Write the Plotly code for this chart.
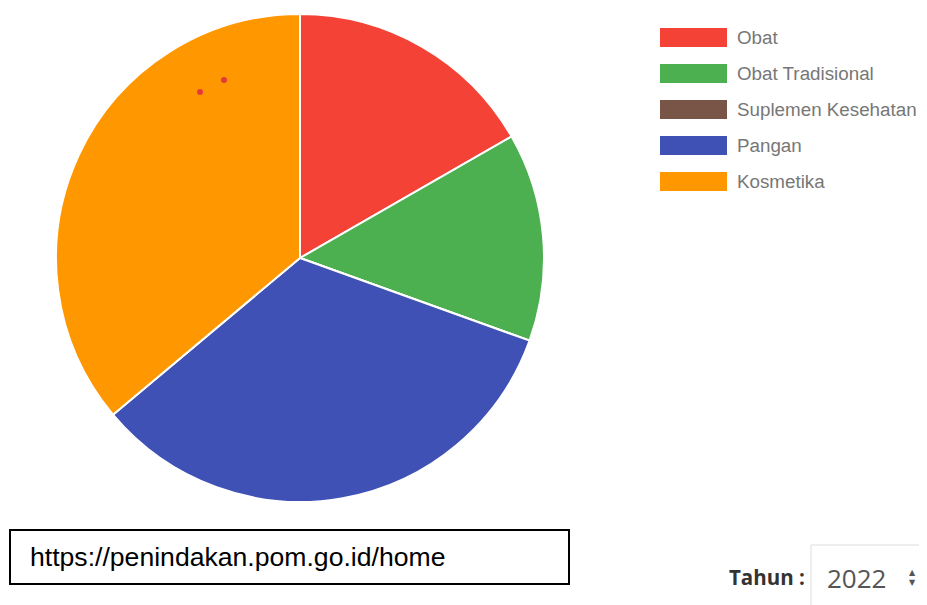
import plotly.graph_objects as go

# the page body adds an 8px margin, so the figure is drawn 8px smaller
# and every reference pixel position is shifted back by 8
OFF = 8
W, H = 927 - OFF, 605 - OFF

# data
categories = ["Obat", "Obat Tradisional", "Suplemen Kesehatan", "Pangan", "Kosmetika"]
values = [167, 138, 0, 334, 361]
colors = ["#F44336", "#4CAF50", "#795548", "#3F51B5", "#FF9800"]

source_url = "https://penindakan.pom.go.id/home"
year_label = "Tahun :"
year_value = "2022"


def px(x):
    return (x - OFF) / W


def py(y):
    return 1 - (y - OFF) / H


fig = go.Figure()

fig.add_trace(go.Pie(
    labels=categories,
    values=values,
    marker=dict(colors=colors, line=dict(color="white", width=2)),
    sort=False,
    direction="clockwise",
    rotation=0,
    textinfo="none",
    showlegend=False,
    domain=dict(x=[px(56), px(544)], y=[py(502), py(14)]),
))

shapes = []
annotations = []

# custom legend with wide swatches
for i, (name, col) in enumerate(zip(categories, colors)):
    yc = 37.5 + 36 * i
    shapes.append(dict(type="rect", xref="paper", yref="paper",
                       x0=px(660), x1=px(727), y0=py(yc + 9.5), y1=py(yc - 9.5),
                       fillcolor=col, line=dict(width=0)))
    annotations.append(dict(text=name, xref="paper", yref="paper",
                            x=px(735), y=py(yc), xanchor="left", yanchor="middle",
                            showarrow=False,
                            font=dict(family="Liberation Sans, Arial", size=18.8, color="#777777")))

# two small red dots on the orange slice
for cx, cy in [(200, 92), (224, 80)]:
    shapes.append(dict(type="circle", xref="paper", yref="paper",
                       x0=px(cx - 3), x1=px(cx + 3), y0=py(cy + 3), y1=py(cy - 3),
                       fillcolor="#E53935", line=dict(width=0)))

# url box
shapes.append(dict(type="rect", xref="paper", yref="paper",
                   x0=px(10), x1=px(569), y0=py(584), y1=py(530),
                   line=dict(color="black", width=2), fillcolor="white"))
annotations.append(dict(text=source_url, xref="paper", yref="paper",
                        x=px(28), y=py(557), xanchor="left", yanchor="middle",
                        showarrow=False,
                        font=dict(family="Liberation Sans, Arial", size=26.6, color="black")))

# year selector
shapes.append(dict(type="rect", xref="paper", yref="paper",
                   x0=px(811), x1=px(940), y0=py(620), y1=py(545),
                   line=dict(color="#dddddd", width=1)))
annotations.append(dict(text="<b>" + year_label + "</b>", xref="paper", yref="paper",
                        x=px(727), y=py(577), xanchor="left", yanchor="middle",
                        showarrow=False,
                        font=dict(family="Open Sans", size=20.5, color="#333333")))
annotations.append(dict(text=year_value, xref="paper", yref="paper",
                        x=px(825), y=py(578), xanchor="left", yanchor="middle",
                        showarrow=False,
                        font=dict(family="Open Sans", size=26, color="#555555")))
annotations.append(dict(text="▲<br>▼", xref="paper", yref="paper",
                        x=px(912), y=py(577), xanchor="center", yanchor="middle",
                        showarrow=False,
                        font=dict(family="DejaVu Sans", size=8, color="#555555")))

fig.update_layout(
    width=W, height=H,
    margin=dict(l=0, r=0, t=0, b=0),
    paper_bgcolor="white",
    plot_bgcolor="white",
    shapes=shapes,
    annotations=annotations,
)

fig.write_html("out.html")
